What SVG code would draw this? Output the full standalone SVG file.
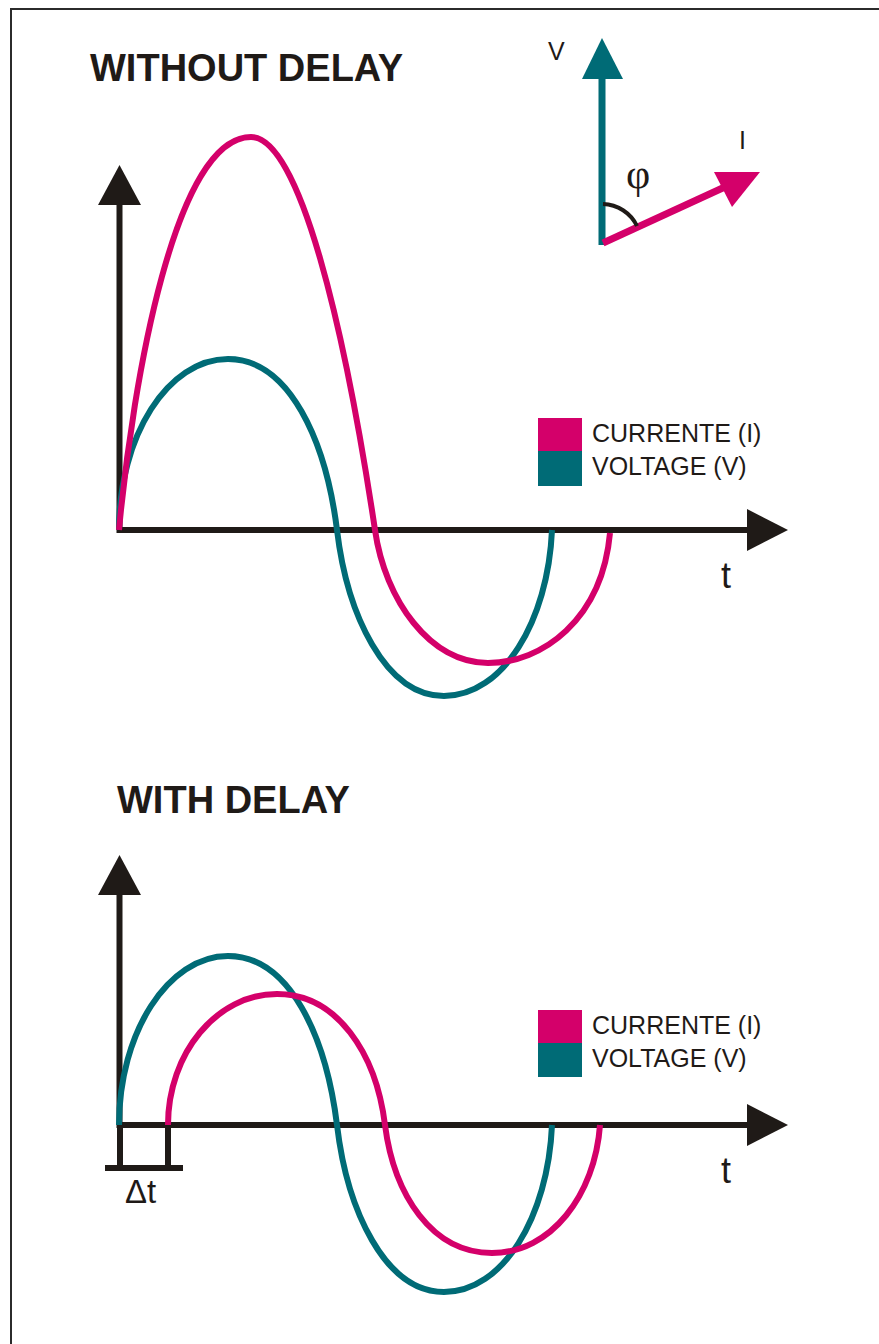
<svg xmlns="http://www.w3.org/2000/svg" width="879" height="1344" viewBox="0 0 879 1344">
<style>
.ax{stroke:#1f1a17;stroke-width:6;fill:none}
.ah{fill:#1f1a17}
.cur{stroke:#d4006a;stroke-width:6;fill:none}
.vol{stroke:#006b76;stroke-width:6;fill:none}
.title{font-family:"Liberation Sans",Arial,sans-serif;font-weight:bold;font-size:38px;fill:#1f1a17}
.lab{font-family:"Liberation Sans",Arial,sans-serif;font-size:25px;fill:#1f1a17}
.t{font-family:"Liberation Sans",Arial,sans-serif;font-size:36px;fill:#1f1a17}
</style>
<rect width="879" height="1344" fill="#fff"/>
<path d="M11,1344 V9 H879" stroke="#2b2b2b" stroke-width="2" fill="none"/>

<g id="title-top"><text class="title" x="90" y="81">WITHOUT DELAY</text></g>
<g id="title-bottom"><text class="title" x="117" y="813">WITH DELAY</text></g>

<g id="phasor">
  <line x1="602" y1="245" x2="602" y2="76" stroke="#006b76" stroke-width="7"/>
  <polygon points="602,38 582,79 623,79" fill="#006b76"/>
  <line x1="603" y1="243" x2="727" y2="186" stroke="#d4006a" stroke-width="7"/>
  <polygon points="760,172 714,172 732,207" fill="#d4006a"/>
  <path d="M603,204 A39,39 0 0 1 637,226" stroke="#1f1a17" stroke-width="4" fill="none"/>
  <text class="lab" x="548" y="60" font-size="24">V</text>
  <text class="lab" x="739" y="149" font-size="22">I</text>
  <text x="638" y="188" text-anchor="middle" font-family="'Liberation Serif',serif" font-size="42" fill="#1f1a17">φ</text>
</g>

<g id="axes-top">
  <line class="ax" x1="119.5" y1="533" x2="119.5" y2="200"/>
  <polygon class="ah" points="119.5,165 98,205 141,205"/>
  <line class="ax" x1="117" y1="530" x2="750" y2="530"/>
  <polygon class="ah" points="788,530 747,509 747,551"/>
  <text class="t" x="721" y="588">t</text>
</g>

<g id="legend-top">
  <rect x="538" y="418" width="44" height="33" fill="#d4006a"/>
  <rect x="538" y="451" width="44" height="35" fill="#006b76"/>
  <text class="lab" x="592" y="442">CURRENTE (I)</text>
  <text class="lab" x="592" y="475">VOLTAGE (V)</text>
</g>

<g id="axes-bottom">
  <line class="ax" x1="119.5" y1="1128" x2="119.5" y2="890"/>
  <polygon class="ah" points="119.5,855 98,895 141,895"/>
  <line class="ax" x1="117" y1="1125" x2="750" y2="1125"/>
  <polygon class="ah" points="788,1125 747,1104 747,1146"/>
  <text class="t" x="721" y="1183">t</text>
</g>

<g id="legend-bottom">
  <rect x="538" y="1010" width="44" height="33" fill="#d4006a"/>
  <rect x="538" y="1043" width="44" height="34" fill="#006b76"/>
  <text class="lab" x="592" y="1034">CURRENTE (I)</text>
  <text class="lab" x="592" y="1067">VOLTAGE (V)</text>
</g>

<g id="connectors">
  <path class="vol" d="M119,530 C119,436 168,359 228,359 C290,359 326,442 337,530 C347,614 385,696 444,696 C503,696 548,621 552,530"/>
  <path class="cur" d="M119,530 C133,380 175,137 251,137 C300,137 345,330 375,530 C385,600 430,663 488,663 C542,663 602,620 610,533"/>
  <path class="vol" d="M119,1125 C119,1033 168,956 228,956 C290,956 326,1037 337,1125 C347,1210 385,1292 444,1292 C503,1292 548,1217 552,1125"/>
  <path class="cur" d="M168,1125 C168,1053 217,994 277,994 C337,994 376,1053 385,1125 C394,1195 432,1253 492,1253 C551,1253 595,1195 600,1125"/>
</g>

<g id="delta-t">
  <line class="ax" x1="120" y1="1125" x2="120" y2="1171" stroke-width="5"/>
  <line class="ax" x1="168" y1="1125" x2="168" y2="1171" stroke-width="5"/>
  <line class="ax" x1="105" y1="1168" x2="183" y2="1168" stroke-width="5"/>
  <text x="125" y="1203" font-family="'Liberation Sans',Arial,sans-serif" font-size="33" fill="#1f1a17">Δt</text>
</g>
</svg>
